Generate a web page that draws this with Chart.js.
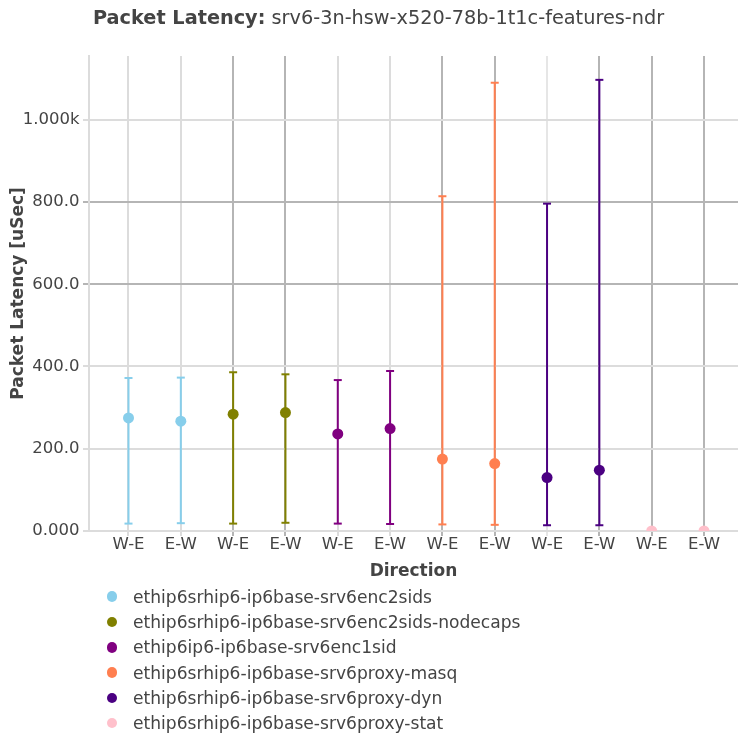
<!DOCTYPE html>
<html>
<head>
<meta charset="utf-8">
<script src="https://cdn.jsdelivr.net/npm/chart.js@4/dist/chart.umd.min.js"></script>
<style>
  body { margin: 0; background: #fff; }
  #wrap { position: relative; width: 738px; height: 735px; font-family: 'DejaVu Sans', sans-serif; color: #444; }
  #chart { position: absolute; left: 0; top: 0; }
  #title { position: absolute; left: 93px; top: 6px; font-size: 19.3px; white-space: nowrap; }
  .leg { position: absolute; left: 0; height: 26px; display: flex; align-items: center; font-size: 17.1px; white-space: nowrap; }
  .leg .dot { display: inline-block; width: 10.5px; height: 10.5px; border-radius: 50%; margin-left: 106.5px; margin-right: 16px; }
</style>
</head>
<body>
<div id="wrap">
  <canvas id="chart" width="738" height="735"></canvas>
  <div id="title"><b>Packet Latency:</b> srv6-3n-hsw-x520-78b-1t1c-features-ndr</div>
</div>
<script>
// ---- data ----
var xLabels = ['W-E', 'E-W', 'W-E', 'E-W', 'W-E', 'E-W', 'W-E', 'E-W', 'W-E', 'E-W', 'W-E', 'E-W'];

var testNames = [
    'ethip6srhip6-ip6base-srv6enc2sids',
    'ethip6srhip6-ip6base-srv6enc2sids-nodecaps',
    'ethip6ip6-ip6base-srv6enc1sid',
    'ethip6srhip6-ip6base-srv6proxy-masq',
    'ethip6srhip6-ip6base-srv6proxy-dyn',
    'ethip6srhip6-ip6base-srv6proxy-stat'
];
var testColors = ['#87ceeb', '#808000', '#800080', '#ff7f50', '#4b0082', '#ffc0cb'];

// average / min / max latency per test, W-E and E-W direction [uSec]
var avgWE = [275, 284, 236, 175, 130, 0];
var avgEW = [267, 288, 249, 164, 148, 0];
var minWE = [18, 18, 18, 16, 14, null];
var minEW = [19, 20, 17, 15, 14, null];
var maxWE = [372, 386, 367, 814, 796, null];
var maxEW = [373, 381, 389, 1090, 1097, null];

var yTickValues = [0, 200, 400, 600, 800, 1000];
var yTickLabels = ['0.000', '200.0', '400.0', '600.0', '800.0', '1.000k'];

// grid line shades as they appear in the reference
var LIGHT = '#dcdcdc', DARK = '#b5b5b5';
var vGridColors = [LIGHT, LIGHT, DARK, DARK, LIGHT, LIGHT, DARK, DARK, '#e6e6e6', DARK, DARK, DARK];
var hGridColors = [LIGHT, LIGHT, LIGHT, DARK, DARK, LIGHT];

Chart.defaults.font.family = "'DejaVu Sans', sans-serif";
Chart.defaults.color = '#444';

// -------- datasets
var pointSets = [];
var errorSets = [];
testNames.forEach(function (name, i) {
    var col = testColors[i];
    pointSets.push({
        type: 'scatter',
        label: name,
        data: [{x: 2 * i, y: avgWE[i]}, {x: 2 * i + 1, y: avgEW[i]}],
        backgroundColor: col,
        borderColor: col,
        pointRadius: 5.5,
        pointHoverRadius: 5.5,
        pointBorderWidth: 0,
        showLine: false,
        clip: 0
    });
    var mins = [minWE[i], minEW[i]];
    var maxs = [maxWE[i], maxEW[i]];
    for (var d = 0; d < 2; d++) {
        if (mins[d] === null || maxs[d] === null) continue;
        errorSets.push({
            type: 'line',
            label: '',
            data: [{x: 2 * i + d, y: mins[d]}, {x: 2 * i + d, y: maxs[d]}],
            borderColor: col,
            borderWidth: 2,
            pointStyle: 'line',
            pointRadius: 4,
            pointHoverRadius: 4,
            pointBorderWidth: 2,
            pointBorderColor: col,
            fill: false,
            clip: 0
        });
    }
});

var latencyChart = new Chart(document.getElementById('chart').getContext('2d'), {
    data: { datasets: pointSets.concat(errorSets) },
    options: {
        responsive: false,
        animation: false,
        layout: { autoPadding: false, padding: { top: 56, right: 0, bottom: 152, left: 0 } },
        plugins: {
            legend: { display: false },
            title: { display: false },
            tooltip: { enabled: false }
        },
        scales: {
            x: {
                type: 'linear',
                min: -0.755,
                max: 11.65,
                afterBuildTicks: function (scale) {
                    scale.ticks = xLabels.map(function (l, i) { return {value: i}; });
                },
                afterFit: function (scale) {
                    scale.height = 52;
                    scale.paddingLeft = 0;
                    scale.paddingRight = 0;
                },
                ticks: {
                    autoSkip: false,
                    maxRotation: 0,
                    padding: 0,
                    font: { size: 16.5, lineHeight: 1 },
                    color: '#444',
                    callback: function (v) { return xLabels[v]; }
                },
                grid: {
                    color: function (ctx) { return vGridColors[ctx.index] || LIGHT; },
                    tickLength: 5,
                    lineWidth: 2
                },
                border: { display: true, color: LIGHT, width: 2 },
                title: {
                    display: true,
                    text: 'Direction',
                    font: { size: 17, weight: 'bold' },
                    color: '#444',
                    padding: { top: 0, bottom: 1.5 }
                }
            },
            y: {
                type: 'linear',
                min: 0,
                max: 1155,
                afterBuildTicks: function (scale) {
                    scale.ticks = yTickValues.map(function (v) { return {value: v}; });
                },
                afterFit: function (scale) {
                    scale.width = 89;
                    scale.paddingTop = 0;
                    scale.paddingBottom = 0;
                },
                ticks: {
                    padding: 3.5,
                    font: { size: 16.5 },
                    color: '#444',
                    callback: function (v) { return yTickLabels[yTickValues.indexOf(v)]; }
                },
                grid: {
                    color: function (ctx) { return hGridColors[ctx.index] || LIGHT; },
                    tickLength: 6,
                    lineWidth: 2
                },
                border: { display: true, color: LIGHT, width: 2 },
                title: {
                    display: true,
                    text: 'Packet Latency [uSec]',
                    font: { size: 17, weight: 'bold' },
                    color: '#444',
                    padding: { top: 8.5, bottom: 0 }
                }
            }
        }
    }
});

// -------- legend (html, plotly style)
var wrap = document.getElementById('wrap');
testNames.forEach(function (name, i) {
    var row = document.createElement('div');
    row.className = 'leg';
    row.style.top = (596.7 + i * 25.3 - 13) + 'px';
    row.innerHTML = '<span class="dot" style="background:' + testColors[i] + '"></span><span>' + name + '</span>';
    wrap.appendChild(row);
});
</script>
</body>
</html>
